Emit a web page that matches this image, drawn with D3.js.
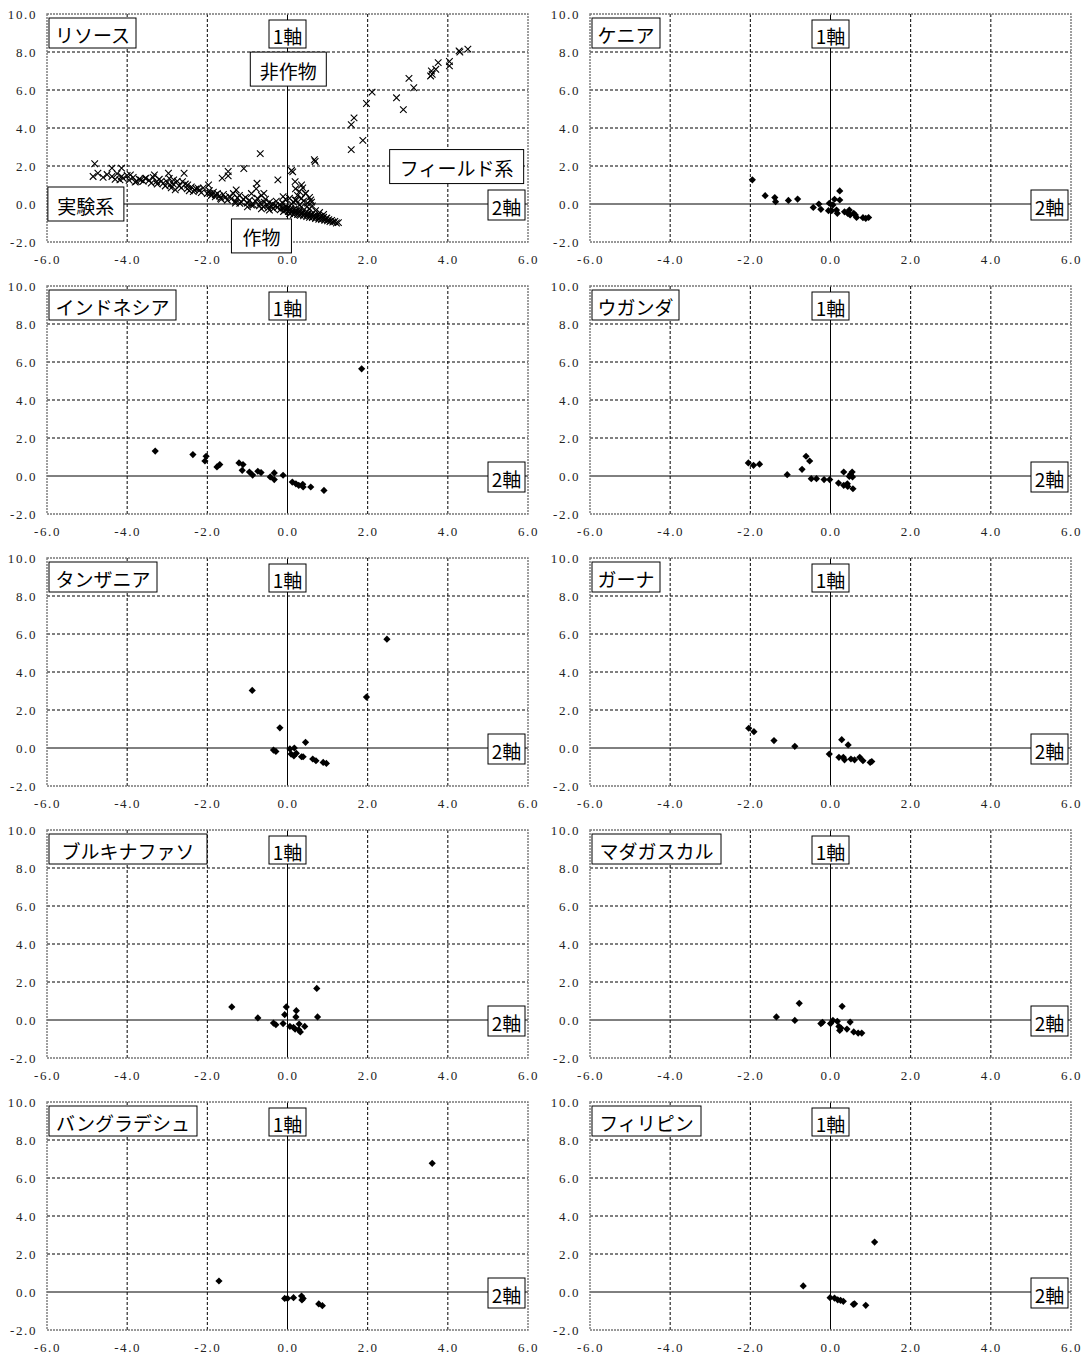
<!DOCTYPE html>
<html><head><meta charset="utf-8">
<script src="https://cdn.jsdelivr.net/npm/d3@7/dist/d3.min.js"></script>
<style>
html,body{margin:0;padding:0;background:#fff;}
svg{display:block;}
.tick text{font-family:"Liberation Serif","DejaVu Serif",serif;font-size:13px;fill:#222;letter-spacing:1.6px;}
.lbl{font-family:"Noto Sans CJK JP",sans-serif;font-size:19px;fill:#000;font-weight:400;}
</style></head>
<body>
<svg id="chart" width="1087" height="1355"></svg>
<script>
// ---- data ----
const xTicks = [-6, -4, -2, 0, 2, 4, 6];
const yTicks = [-2, 0, 2, 4, 6, 8, 10];
const xAxisName = "2軸";
const yAxisName = "1軸";
const panelNames = ["リソース","ケニア","インドネシア","ウガンダ","タンザニア","ガーナ","ブルキナファソ","マダガスカル","バングラデシュ","フィリピン"];

const resourcePts = [
 [4.50,8.15],[4.28,8.06],[4.30,8.00],[4.04,7.50],[4.04,7.27],[3.76,7.44],[3.70,7.09],[3.59,7.00],[3.57,6.74],[3.61,6.83],
 [3.03,6.61],[3.15,6.12],[2.11,5.89],[1.97,5.29],[2.72,5.59],[2.89,4.97],[1.66,4.53],[1.59,4.18],[1.88,3.35],[1.59,2.86],
 [0.69,2.24],[0.67,2.33],[-0.68,2.65],[-1.09,1.87],[0.10,1.76],[0.13,1.69],[-0.24,1.27],[-1.48,1.71],[-1.48,1.48],[-1.63,1.36],
 [-4.81,2.12],[-4.85,1.45],[-4.73,1.62],[-4.38,1.89],[-4.38,1.45],[-4.14,1.89],[-4.14,1.45],[-4.18,1.27],[-3.77,1.18],[-3.66,1.27],
 [-3.92,1.53],[-3.53,1.36],[-3.32,1.53],[-3.27,1.18],[-3.10,1.09],[-2.97,1.62],[-2.84,1.27],[-2.93,1.00],[-2.58,1.62],[-2.62,1.18],
 [-2.49,1.00],[-2.32,0.74],[-2.23,0.83],[-1.97,1.00],[-1.93,0.56],[-1.80,0.48],[-1.67,0.30],[-1.28,0.74],[-1.19,0.04],[-0.76,1.09],
 [-0.59,0.56],[-0.11,0.39],[0.19,1.18],[0.35,1.00],[0.45,0.56],[0.58,0.21],[0.19,0.21],
 [-4.60,1.40],[-4.50,1.55],[-4.30,1.30],[-4.25,1.60],[-4.10,1.35],[-4.00,1.50],[-3.95,1.25],[-3.85,1.40],[-3.80,1.15],[-3.70,1.30],
 [-3.60,1.20],[-3.55,1.35],[-3.45,1.25],[-3.40,1.10],[-3.35,1.40],[-3.25,1.05],[-3.20,1.30],[-3.15,1.20],[-3.05,0.95],[-3.00,1.15],
 [-2.95,1.35],[-2.90,0.85],[-2.85,1.05],[-2.80,0.75],[-2.75,1.20],[-2.70,0.95],[-2.65,0.85],[-2.55,1.05],[-2.50,0.80],[-2.45,0.70],
 [-2.40,0.90],[-2.35,0.65],[-2.28,0.80],[-2.20,0.72],[-2.15,0.60],[-2.10,0.85],
 [-2.00,0.55],[-1.95,0.70],[-1.90,0.45],[-1.85,0.62],[-1.80,0.38],[-1.75,0.55],[-1.70,0.42],[-1.65,0.25],[-1.60,0.50],[-1.55,0.35],
 [-1.50,0.20],[-1.45,0.40],[-1.40,0.28],[-1.35,0.55],[-1.30,0.15],[-1.25,0.32],[-1.20,0.45],[-1.15,0.10],[-1.10,0.25],[-1.05,0.35],
 [-1.00,0.05],[-0.95,0.20],[-0.90,0.55],[-0.85,-0.05],[-0.80,0.15],[-0.78,0.80],[-0.75,0.30],[-0.70,-0.10],[-0.68,0.05],[-0.65,0.45],
 [-0.60,-0.15],[-0.58,0.10],[-0.55,0.25],[-0.50,-0.05],[-0.48,-0.20],[-0.45,0.10],[-0.40,-0.12],[-0.38,0.00],[-0.35,-0.25],[-0.30,-0.08],
 [-0.28,0.15],[-0.25,-0.18],[-0.20,-0.05],[-0.18,-0.30],[-0.15,-0.12],[-0.12,0.05],[-0.10,-0.22],[-0.08,-0.35],[-0.05,-0.15],[-0.02,-0.28],
 [-0.05,0.25],[-0.90,-0.05],[-1.00,-0.15],[-1.30,0.05],[-0.65,-0.25],[-0.45,-0.32],
 [0.00,-0.20],[0.02,-0.40],[0.05,-0.30],[0.08,-0.25],[0.10,-0.45],[0.12,-0.35],[0.15,-0.28],[0.18,-0.50],[0.20,-0.38],[0.22,-0.32],
 [0.25,-0.55],[0.28,-0.42],[0.30,-0.35],[0.32,-0.60],[0.35,-0.48],[0.38,-0.40],[0.40,-0.62],[0.42,-0.52],[0.45,-0.45],[0.48,-0.66],
 [0.50,-0.55],[0.52,-0.48],[0.55,-0.70],[0.58,-0.60],[0.60,-0.52],[0.62,-0.72],[0.65,-0.64],[0.68,-0.58],[0.70,-0.76],[0.72,-0.68],
 [0.75,-0.62],[0.78,-0.80],[0.80,-0.72],[0.82,-0.66],[0.85,-0.82],[0.88,-0.75],[0.90,-0.70],[0.93,-0.86],[0.95,-0.78],[0.98,-0.74],
 [1.00,-0.88],[1.03,-0.82],[1.06,-0.92],[1.10,-0.86],[1.13,-0.95],[1.18,-0.92],[1.22,-1.00],[1.27,-0.98],
 [0.05,0.30],[0.15,0.10],[0.20,0.80],[0.25,0.45],[0.30,0.65],[0.35,0.30],[0.38,0.85],[0.40,0.15],[0.45,0.55],[0.50,0.05],
 [0.55,0.35],[0.60,0.10],[0.62,-0.10],[0.48,-0.15],[0.30,-0.05],[0.10,0.00],[0.35,-0.15],[0.22,0.20],[0.55,-0.25],[0.70,-0.35],
 [0.80,-0.45],[0.90,-0.55],[0.15,-0.55],[0.05,-0.50],[-0.10,-0.40]
];
const kenyaPts = [[-1.95,1.27],[-1.63,0.44],[-1.39,0.34],[-1.37,0.12],[-1.05,0.19],[-0.82,0.26],[-0.43,-0.18],[-0.29,0.00],[-0.24,-0.28],[-0.03,0.04],
 [-0.05,-0.35],[0.03,-0.35],[0.10,0.25],[0.15,-0.32],[0.17,-0.49],[0.23,0.69],[0.23,0.21],[0.35,-0.41],[0.43,-0.49],[0.47,-0.32],
 [0.49,-0.58],[0.58,-0.49],[0.62,-0.58],[0.65,-0.71],[0.81,-0.72],[0.88,-0.76],[0.95,-0.71],[0.06,-0.05]];
const indonesiaPts = [[-3.30,1.31],[-2.36,1.13],[-2.03,1.04],[-2.06,0.79],[-1.76,0.48],[-1.69,0.60],[-1.21,0.69],[-1.11,0.60],[-1.13,0.30],[-0.95,0.21],
 [-0.87,0.05],[-0.74,0.25],[-0.66,0.18],[-0.43,-0.05],[-0.33,0.16],[-0.33,-0.19],[-0.11,0.04],[0.12,-0.32],[0.21,-0.41],[0.28,-0.49],
 [0.38,-0.44],[0.39,-0.58],[0.58,-0.58],[0.91,-0.76],[1.85,5.64]];
const ugandaPts = [[-2.05,0.69],[-1.92,0.56],[-1.77,0.62],[-1.08,0.07],[-0.71,0.35],[-0.61,1.04],[-0.52,0.79],[-0.48,-0.14],[-0.35,-0.14],[-0.16,-0.19],
 [-0.02,-0.19],[0.20,-0.37],[0.33,0.21],[0.33,-0.49],[0.42,-0.41],[0.43,-0.55],[0.50,0.09],[0.55,-0.05],[0.54,0.21],[0.56,-0.67],[0.47,-0.02]];
const tanzaniaPts = [[-0.88,3.03],[-0.19,1.06],[-0.35,-0.11],[-0.29,-0.18],[0.06,-0.05],[0.17,0.00],[0.09,-0.32],[0.16,-0.41],[0.22,-0.28],[0.35,-0.46],
 [0.39,-0.46],[0.45,0.30],[0.63,-0.58],[0.71,-0.67],[0.89,-0.76],[0.97,-0.81],[1.97,2.68],[2.48,5.73]];
const ghanaPts = [[-2.04,1.04],[-1.91,0.86],[-1.41,0.39],[-0.89,0.09],[-0.03,-0.32],[0.21,-0.49],[0.28,0.44],[0.32,-0.49],[0.35,-0.62],[0.44,0.16],
 [0.51,-0.58],[0.60,-0.62],[0.73,-0.49],[0.81,-0.67],[0.99,-0.76],[1.03,-0.71]];
const burkinaPts = [[-1.39,0.69],[-0.74,0.11],[-0.35,-0.16],[-0.29,-0.25],[-0.11,-0.19],[-0.03,0.69],[-0.07,0.28],[0.06,-0.34],[0.15,-0.39],[0.19,-0.48],
 [0.22,0.49],[0.21,0.16],[0.28,-0.51],[0.29,-0.21],[0.32,-0.63],[0.43,-0.34],[0.73,1.66],[0.75,0.16]];
const madagascarPts = [[-1.35,0.16],[-0.89,-0.02],[-0.78,0.88],[-0.24,-0.19],[-0.20,-0.12],[0.00,-0.19],[0.06,-0.02],[0.17,-0.07],[0.21,-0.34],[0.23,-0.55],
 [0.26,-0.42],[0.29,0.72],[0.41,-0.48],[0.49,-0.11],[0.58,-0.63],[0.69,-0.69],[0.78,-0.69]];
const bangladeshPts = [[-1.71,0.58],[-0.07,-0.34],[0.00,-0.34],[0.15,-0.30],[0.35,-0.21],[0.36,-0.42],[0.39,-0.34],[0.78,-0.63],[0.87,-0.72],[3.61,6.77]];
const philippinesPts = [[-0.68,0.32],[-0.01,-0.30],[0.10,-0.32],[0.18,-0.41],[0.25,-0.44],[0.32,-0.49],[0.57,-0.65],[0.60,-0.62],[0.88,-0.70],[1.10,2.63]];

const panelPoints = [resourcePts,kenyaPts,indonesiaPts,ugandaPts,tanzaniaPts,ghanaPts,burkinaPts,madagascarPts,bangladeshPts,philippinesPts];
// extra text boxes in first panel: [text, centre x value, centre y value]
const resourceNotes = [["非作物",0.02,7.1],["フィールド系",4.22,1.97],["実験系",-5.03,0.0],["作物",-0.65,-1.68]];
const resourceNoteW = [76,134,76,60];

// ---- layout ----
const W = 481, H = 228;
const colLeft = [47, 590];
const rowTop0 = 14, rowStep = 272;
const labelBoxW = [87,68,127,87,108,68,158,129,148,109];

const svg = d3.select("#chart");
const x = d3.scaleLinear().domain([-6, 6]).range([0, W]);
const y = d3.scaleLinear().domain([-2, 10]).range([H, 0]);
const fmt = d => d.toFixed(1);

function box(g, text, cx, cy, w, h, anchor) {
  const bw = w;
  let left;
  if (anchor === "left") left = cx; else if (anchor === "right") left = cx - bw; else left = cx - bw/2;
  const top = cy - h/2;
  g.append("rect")
    .attr("x",left).attr("y",top).attr("width",bw).attr("height",h)
    .attr("fill","#fff").attr("stroke","#000").attr("stroke-width",1);
  g.append("text").attr("class","lbl").text(text)
    .attr("dominant-baseline","central")
    .attr("x", left + bw/2).attr("y", top + h/2 + 1).attr("text-anchor","middle");
}

panelNames.forEach((name, i) => {
  const col = i % 2, row = Math.floor(i / 2);
  const g = svg.append("g").attr("transform", `translate(${colLeft[col]},${rowTop0 + row*rowStep})`);

  // grid
  g.append("g").selectAll("line").data(xTicks.filter(v => v!==-6 && v!==6 && v!==0)).join("line")
    .attr("x1", d=>x(d)).attr("x2", d=>x(d)).attr("y1",0).attr("y2",H)
    .attr("stroke","#000").attr("stroke-width",1).attr("stroke-dasharray","3,2");
  g.append("g").selectAll("line").data(yTicks.filter(v => v!==-2 && v!==10 && v!==0)).join("line")
    .attr("y1", d=>y(d)).attr("y2", d=>y(d)).attr("x1",0).attr("x2",W)
    .attr("stroke","#000").attr("stroke-width",1).attr("stroke-dasharray","3,2");
  // zero axes
  g.append("line").attr("x1",x(0)).attr("x2",x(0)).attr("y1",0).attr("y2",H).attr("stroke","#000").attr("stroke-width",1);
  g.append("line").attr("x1",0).attr("x2",W).attr("y1",y(0)).attr("y2",y(0)).attr("stroke","#000").attr("stroke-width",1);
  // plot border
  g.append("rect").attr("x",0).attr("y",0).attr("width",W).attr("height",H)
    .attr("fill","none").attr("stroke","#777").attr("stroke-width",1.4).attr("stroke-dasharray","2,1");

  // axes labels
  g.append("g").call(d3.axisLeft(y).tickValues(yTicks).tickFormat(fmt).tickSize(0).tickPadding(10))
    .call(a => a.select(".domain").remove());
  g.append("g").attr("transform",`translate(0,${H})`)
    .call(d3.axisBottom(x).tickValues(xTicks).tickFormat(fmt).tickSize(0).tickPadding(13))
    .call(a => a.select(".domain").remove());

  // points
  const pts = panelPoints[i];
  if (i === 0) {
    const s = 3.3;
    g.append("g").selectAll("path").data(pts).join("path")
      .attr("d", d => `M${x(d[0])-s},${y(d[1])-s}L${x(d[0])+s},${y(d[1])+s}M${x(d[0])-s},${y(d[1])+s}L${x(d[0])+s},${y(d[1])-s}`)
      .attr("stroke","#000").attr("stroke-width",1.1).attr("fill","none");
  } else {
    const s = 3.6;
    g.append("g").selectAll("path").data(pts).join("path")
      .attr("d", d => `M${x(d[0])},${y(d[1])-s}L${x(d[0])+s},${y(d[1])}L${x(d[0])},${y(d[1])+s}L${x(d[0])-s},${y(d[1])}Z`)
      .attr("fill","#000");
  }

  // text boxes
  box(g.append("g"), name, 2, 19, labelBoxW[i], 30, "left");
  box(g.append("g"), yAxisName, x(0), 20, 37, 28, "middle");
  box(g.append("g"), xAxisName, W - 3, y(0) + 1, 37, 30, "right");
  if (i === 0) {
    resourceNotes.forEach((n, k) => {
      box(g.append("g"), n[0], x(n[1]), y(n[2]), resourceNoteW[k], 34, "middle");
    });
  }
});
</script>
</body></html>
